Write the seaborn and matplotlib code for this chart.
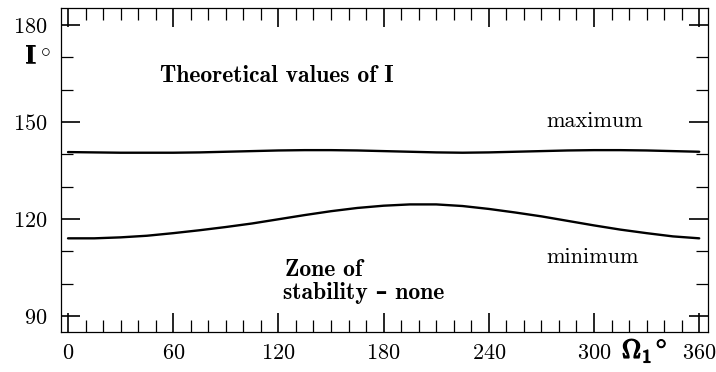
import numpy as np
import pandas as pd
import matplotlib
matplotlib.use("Agg")
import matplotlib.pyplot as plt
import matplotlib.patheffects as pe
from matplotlib.ticker import MultipleLocator
import seaborn as sns

# Longitude of the node, degrees
omega = [0, 15, 30, 45, 60, 75, 90, 105, 120, 135, 150, 165, 180,
         195, 210, 225, 240, 255, 270, 285, 300, 315, 330, 345, 360]
# Upper bound of the theoretical inclination
i_max = [140.7, 140.6, 140.5, 140.5, 140.5, 140.6, 140.8, 141.0, 141.2, 141.3,
         141.3, 141.2, 141.0, 140.8, 140.6, 140.5, 140.6, 140.8, 141.0, 141.2,
         141.3, 141.3, 141.2, 141.0, 140.8]
# Lower bound of the theoretical inclination
i_min = [114.0, 114.0, 114.3, 114.8, 115.6, 116.5, 117.5, 118.6, 119.9, 121.2,
         122.4, 123.4, 124.1, 124.5, 124.5, 124.0, 123.1, 122.0, 120.8, 119.4,
         118.0, 116.7, 115.6, 114.6, 114.0]

x_ticks = [0, 60, 120, 180, 240, 300, 360]
y_ticks = [90, 120, 150, 180]

df = pd.DataFrame({
    "Omega": omega * 2,
    "I": i_max + i_min,
    "bound": ["maximum"] * len(omega) + ["minimum"] * len(omega),
})

sns.set_style("ticks")
plt.rcParams.update({
    "font.family": ["cmr10", "DejaVu Serif"],
    "mathtext.fontset": "cm",
    "axes.formatter.use_mathtext": True,
    "text.color": "black",
    "axes.labelcolor": "black",
    "axes.edgecolor": "black",
    "xtick.color": "black",
    "ytick.color": "black",
})

fig = plt.figure(figsize=(7.16, 3.72), dpi=100)
ax = fig.add_axes([0.0852, 0.1075, 0.9036, 0.871])

sns.lineplot(data=df, x="Omega", y="I", hue="bound", units="bound",
             estimator=None, palette=["black", "black"], linewidth=1.7,
             legend=False, ax=ax)

ax.set_xlim(-4, 365)
ax.set_ylim(85.0, 185.3)
ax.set_xticks(x_ticks)
ax.set_yticks(y_ticks)
ax.xaxis.set_minor_locator(MultipleLocator(10))
ax.yaxis.set_minor_locator(MultipleLocator(10))
ax.tick_params(which="both", direction="in", top=True, right=True,
               labelsize=16, color="black", labelcolor="black")
ax.tick_params(which="major", length=13.5, width=1.2)
ax.tick_params(which="minor", length=8.5, width=0.9)
ax.tick_params(axis="x", which="major", pad=8)
ax.tick_params(axis="y", which="major", pad=10)
for s in ax.spines.values():
    s.set_linewidth(0.9)
    s.set_color("black")
ax.set_xlabel("")
ax.set_ylabel("")

bold = {"family": ["cmb10", "DejaVu Serif"], "weight": "bold"}

ax.text(52.5, 162.3, "Theoretical values of I", fontdict=bold, fontsize=17,
        va="baseline", ha="left")
ax.text(300.6, 148.5, "maximum", fontsize=16, ha="center", va="baseline")
ax.text(299, 106.4, "minimum", fontsize=16, ha="center", va="baseline")
ax.text(123.8, 102.4, "Zone of", fontdict=bold, fontsize=17, ha="left",
        va="baseline")
ax.text(122.6, 95.3, "stability \u2013 none", fontdict=bold, fontsize=17,
        ha="left", va="baseline")

fig.text(25 / 716, 1 - 63 / 372, "I", fontdict=bold, fontsize=19, ha="left",
         va="baseline", path_effects=[pe.withStroke(linewidth=0.4,
                                                    foreground="black")])
fig.text(40 / 716, 1 - 51 / 372, r"$\circ$", fontsize=14, ha="left",
         va="center")
fig.text(622 / 716, 1 - 358 / 372, r"$\Omega_1$", fontsize=19, ha="left",
         va="baseline", path_effects=[pe.withStroke(linewidth=1.0,
                                                    foreground="black")])
fig.text(656 / 716, 1 - 344 / 372, r"$\circ$", fontsize=15, ha="left",
         va="center", path_effects=[pe.withStroke(linewidth=0.8,
                                                  foreground="black")])

fig.savefig("out.png", dpi=100)
